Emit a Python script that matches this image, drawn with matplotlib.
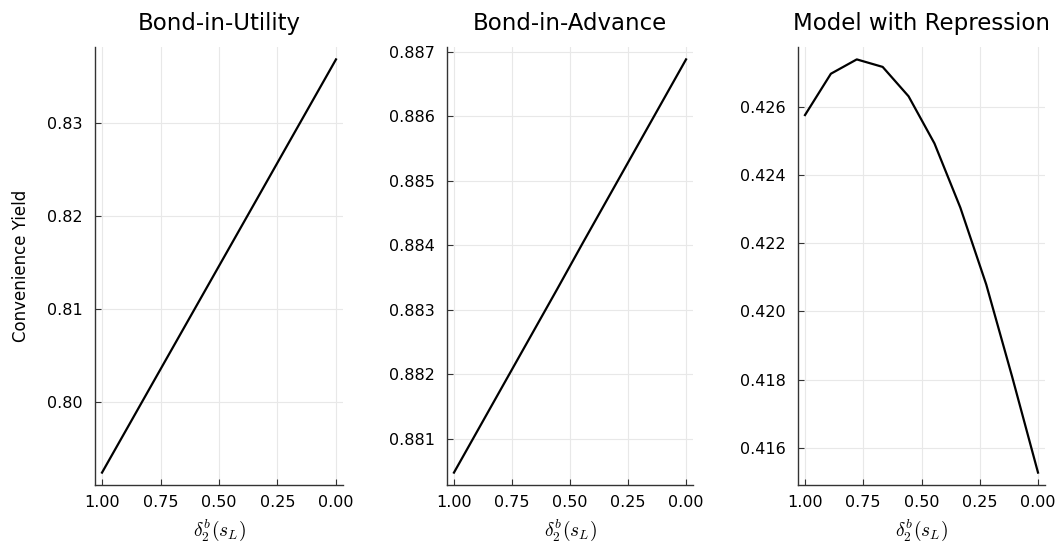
import matplotlib
matplotlib.use("Agg")
import matplotlib.pyplot as plt

plt.rcParams['font.family'] = ['DejaVu Sans']
plt.rcParams['mathtext.fontset'] = 'cm'

# 数据：横轴 delta_2^b(s_L)，从 1 到 0
delta = [1.0, 8/9, 7/9, 6/9, 5/9, 4/9, 3/9, 2/9, 1/9, 0.0]
bond_utility = [0.79247, 0.79739, 0.80232, 0.80724, 0.81216, 0.81708,
                0.82200, 0.82693, 0.83185, 0.83677]
bond_advance = [0.88048, 0.88119, 0.88190, 0.88261, 0.88332, 0.88404,
                0.88475, 0.88546, 0.88617, 0.88688]
repression = [0.42575, 0.42696, 0.42738, 0.42716, 0.42630, 0.42492,
              0.42304, 0.42079, 0.41809, 0.41528]

titles = ["Bond-in-Utility", "Bond-in-Advance", "Model with Repression"]
series = [bond_utility, bond_advance, repression]
yticks = [[0.80, 0.81, 0.82, 0.83],
          [0.881, 0.882, 0.883, 0.884, 0.885, 0.886, 0.887],
          [0.416, 0.418, 0.420, 0.422, 0.424, 0.426]]
yfmt = ["%.2f", "%.3f", "%.3f"]
xticks = [1.0, 0.75, 0.5, 0.25, 0.0]

W, H = 1057, 545
fig = plt.figure(figsize=(W / 100, H / 100), dpi=100)
lefts = [95, 447, 798]
rights = [343, 693, 1045]
top, bottom = 47, 485

for i in range(3):
    ax = fig.add_axes([lefts[i] / W, 1 - bottom / H,
                       (rights[i] - lefts[i]) / W, (bottom - top) / H])
    ax.plot(delta, series[i], color="black", linewidth=1.6)
    ax.margins(x=0.03, y=0.03)
    ax.invert_xaxis()
    ax.set_xticks(xticks)
    ax.set_xticklabels(["%.2f" % t for t in xticks])
    ax.set_yticks(yticks[i])
    ax.set_yticklabels([yfmt[i] % t for t in yticks[i]])
    ax.grid(True, color="#e8e8e8", linewidth=0.8)
    ax.set_axisbelow(True)
    for s in ["top", "right"]:
        ax.spines[s].set_visible(False)
    for s in ["left", "bottom"]:
        ax.spines[s].set_color("#333333")
        ax.spines[s].set_linewidth(1.0)
    ax.tick_params(direction="in", length=4, width=0.8, colors="#333333",
                   labelcolor="black", labelsize=11.5)
    ax.tick_params(axis="y", pad=9)
    ax.tick_params(axis="x", pad=7)
    ax.set_title(titles[i], fontsize=16.5, pad=12)
    ax.set_xlabel(r"$\delta_2^b(s_L)$", fontsize=14, labelpad=6)
    if i == 0:
        ax.set_ylabel("Convenience Yield", fontsize=12, labelpad=12)

fig.savefig("out.png", dpi=100)
